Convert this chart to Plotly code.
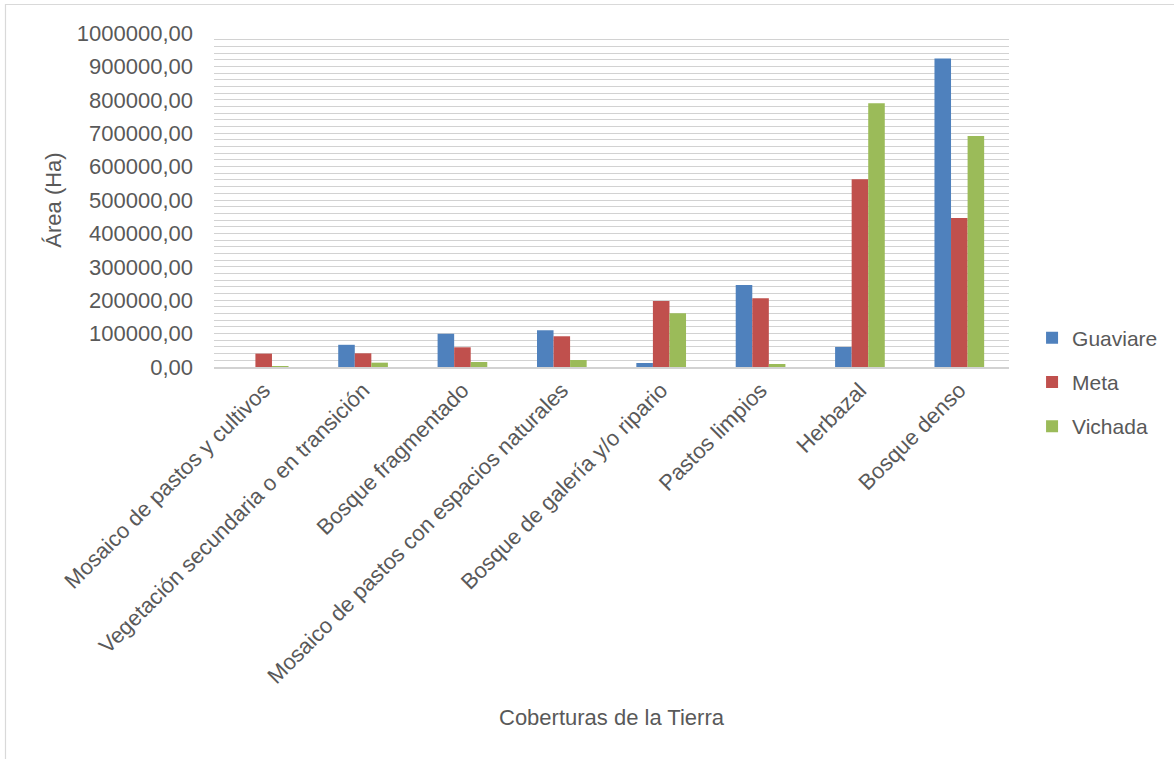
import plotly.graph_objects as go

categories = [
    "Mosaico de pastos y cultivos",
    "Vegetación secundaria o en transición",
    "Bosque fragmentado",
    "Mosaico de pastos con espacios naturales",
    "Bosque de galería y/o ripario",
    "Pastos limpios",
    "Herbazal",
    "Bosque denso",
]
guaviare = [0, 66500, 99500, 110000, 12000, 245500, 60000, 924000]
meta = [40000, 41000, 59000, 92000, 197500, 205500, 562000, 446000]
vichada = [3000, 13000, 15000, 21000, 161000, 9000, 789500, 691500]

tick_vals = [0, 100000, 200000, 300000, 400000, 500000, 600000, 700000, 800000, 900000, 1000000]
tick_text = ["0,00", "100000,00", "200000,00", "300000,00", "400000,00", "500000,00",
             "600000,00", "700000,00", "800000,00", "900000,00", "1000000,00"]

FONT = "Liberation Sans, Arial, sans-serif"
TXT = "#595959"
GRID = "#d2d2d2"
FS = 22

fig = go.Figure()
for name, vals, col in [("Guaviare", guaviare, "#4F81BD"),
                        ("Meta", meta, "#C0504D"),
                        ("Vichada", vichada, "#9BBB59")]:
    fig.add_trace(go.Bar(x=categories, y=vals, name=name, legendgroup=name,
                         marker=dict(color=col, line=dict(width=0))))

fig.update_layout(
    width=1174, height=759,
    margin=dict(l=214, r=165, t=33, b=392, autoexpand=False),
    paper_bgcolor="white", plot_bgcolor="white",
    barmode="group", bargap=0.5, bargroupgap=0,
    font=dict(family=FONT, size=FS, color=TXT),
    showlegend=True,
    legend=dict(x=1.029, xanchor="left", y=-0.045, yanchor="middle",
                font=dict(family=FONT, size=21, color=TXT),
                tracegroupgap=14, bgcolor="rgba(0,0,0,0)"),
    xaxis=dict(
        tickangle=-45, tickfont=dict(family=FONT, size=FS, color=TXT),
        showgrid=False, showline=True, linecolor=GRID, linewidth=1.5,
        ticks="", title=dict(text="Coberturas de la Tierra",
                             font=dict(family=FONT, size=FS, color=TXT), standoff=22),
    ),
    yaxis=dict(
        range=[0, 1000000], tickvals=tick_vals, ticktext=tick_text,
        tickfont=dict(family=FONT, size=FS, color=TXT),
        showgrid=True, gridcolor=GRID, gridwidth=1,
        minor=dict(dtick=20000, showgrid=True, gridcolor=GRID, gridwidth=1),
        zeroline=False, showline=False, ticks="", ticklabelstandoff=20,
        title=dict(text="Área (Ha)", font=dict(family=FONT, size=FS, color=TXT), standoff=9),
    ),
)

# outer chart border (light grey frame)
fig.add_shape(type="rect", xref="paper", yref="paper",
              x0=(5.5 - 214) / 795, x1=1.4, y0=-1.5, y1=(367 - 4.5) / 334,
              line=dict(color="#d9d9d9", width=1.2), fillcolor="rgba(0,0,0,0)", layer="below")

fig.write_html("out.html")
